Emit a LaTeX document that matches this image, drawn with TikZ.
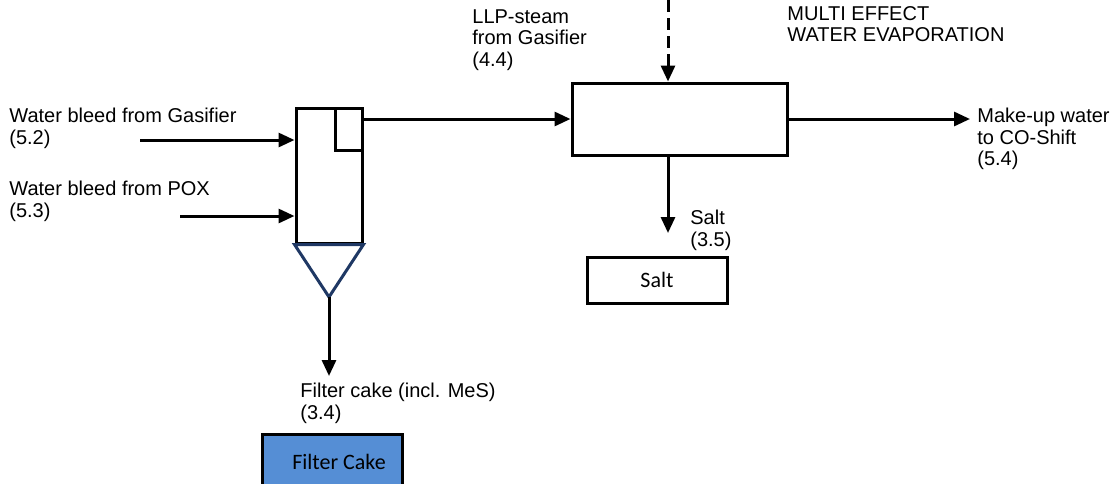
\documentclass[tikz,border=0pt]{standalone}
\usepackage{fontspec}
\setmainfont{Liberation Sans}
\newfontfamily\calibri{Carlito}
\usetikzlibrary{arrows.meta,positioning}
\definecolor{conecol}{HTML}{1F3864}
\definecolor{cakeblue}{HTML}{558ED5}
\begin{document}
\begin{tikzpicture}[x=0.5pt,y=-0.5pt,
    flow/.style={line width=1.5pt,-{Triangle[length=8pt,width=7pt]}},
    unit/.style={draw,line width=1.5pt,inner sep=0pt},
    lbl/.style={anchor=north west,inner sep=0pt,align=left,
      font=\fontsize{10}{10.75}\selectfont}]
  \useasboundingbox (0,0) rectangle (1115,483);
  \clip (0,0) rectangle (1115,483);
  % units
  \node[unit,minimum width=33pt,minimum height=67.5pt] (vessel) at (329,175.5) {};
  \node[unit,minimum width=13.5pt,minimum height=21pt,anchor=north east] (weir)
    at (vessel.north east) {};
  \coordinate (tip) at (329,297);
  \draw[conecol,line width=1.5pt] (vessel.south west) -- (tip)
    -- (vessel.south east) -- cycle;
  \node[unit,minimum width=107.5pt,minimum height=36pt] (evap) at (679.5,119) {};
  \node[unit,minimum width=70pt,minimum height=23pt,
    font=\calibri\fontsize{11}{13}\selectfont] (salt) at (657,280) {Salt};
  \node[unit,fill=cakeblue,minimum width=70pt,minimum height=28pt,
    font=\calibri\fontsize{11}{13}\selectfont] (cake) at (332,462)
    {\hspace*{7pt}Filter Cake};
  % labels
  \node[lbl] (gaslbl) at (9,108) {Water bleed from Gasifier\\(5.2)};
  \node[lbl] (poxlbl) at (9,181) {Water bleed from POX\\(5.3)};
  \node[lbl] (steamlbl) at (472,9) {LLP-steam\\from Gasifier\\(4.4)};
  \node[lbl] (evaplbl) at (787,6) {MULTI EFFECT\\WATER EVAPORATION};
  \node[lbl] (makeuplbl) at (977,108) {Make-up water\\to CO-Shift\\(5.4)};
  \node[lbl] (saltlbl) at (690,210) {Salt\\(3.5)};
  \node[lbl] (cakelbl) at (300,383) {Filter cake (incl. MeS)\\(3.4)};
  % streams
  \coordinate (gasin) at (140,140);
  \coordinate (poxin) at (180,216);
  \coordinate (steam) at (668,0);
  \coordinate (makeup) at (970,119);
  \coordinate (saltout) at (668,233);
  \coordinate (cakeout) at (329,376);
  \draw[flow] (gasin) -- (gasin -| vessel.west);
  \draw[flow] (poxin) -- (poxin -| vessel.west);
  \draw[flow] (vessel.east |- evap.west) -- (evap.west);
  \draw[flow,dash pattern=on 6pt off 3pt] (steam) -- (steam |- evap.north);
  \draw[flow] (evap.east) -- (makeup);
  \draw[flow] (steam |- evap.south) -- (saltout);
  \draw[flow] (tip) -- (cakeout);
\end{tikzpicture}
\end{document}
